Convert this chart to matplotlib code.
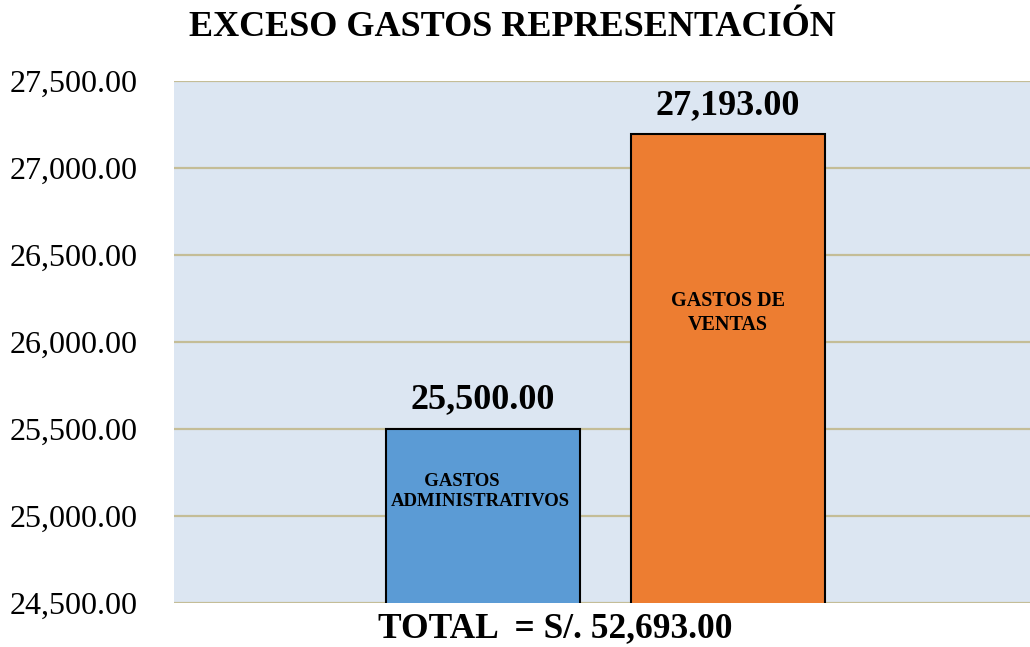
import matplotlib.pyplot as plt
from matplotlib.ticker import FuncFormatter

# data
categories = ["       GASTOS\nADMINISTRATIVOS", "GASTOS DE\nVENTAS"]
values = [25500.00, 27193.00]
colors = ["#5b9bd5", "#ed7d31"]
total_label = "TOTAL  = S/. 52,693.00"
title = "EXCESO GASTOS REPRESENTACIÓN"

plt.rcParams['font.family'] = ['Liberation Serif', 'DejaVu Serif']

fig = plt.figure(figsize=(10.30, 6.47), dpi=100)
ax = fig.add_axes([174/1030, 1 - 603/647, 856/1030, 522/647])
ax.set_facecolor("#dce6f2")

xpos = [-0.139, 0.147]
width = 0.2266
bars = ax.bar(xpos, values, width=width, color=colors, edgecolor="black",
              linewidth=1.5, zorder=3)

ax.set_xlim(-0.5, 0.5)
ax.set_ylim(24500, 27500)
ax.set_yticks(range(24500, 27501, 500))
ax.yaxis.set_major_formatter(FuncFormatter(lambda v, p: f"{v:,.2f}"))
ax.tick_params(axis="y", length=0, pad=26, labelsize=23)
ax.set_xticks([])
ax.grid(axis="y", color="#c4bd97", linewidth=1.6, zorder=1)
for s in ax.spines.values():
    s.set_visible(False)

for b, v in zip(bars, values):
    ax.annotate(f"{v:,.2f}", (b.get_x() + b.get_width()/2, v),
                xytext=(0, 9), textcoords="offset points",
                ha="center", va="bottom", fontsize=26, fontweight="bold")

# labels inside bars
ax.annotate(categories[0], (xpos[0], 25500), xytext=(-2, -45), textcoords="offset points",
            ha="center", va="center", fontsize=13.5, fontweight="bold",
            multialignment="left")
ax.annotate(categories[1], (xpos[1], 26500), xytext=(0, -42), textcoords="offset points",
            ha="center", va="center", fontsize=14.5, fontweight="bold",
            multialignment="center", linespacing=1.25)

fig.text(512/1030, 1 - 27/647, title, ha="center", va="center",
         fontsize=26, fontweight="bold")
fig.text(555/1030, 1 - 629/647, total_label, ha="center", va="center",
         fontsize=25.5, fontweight="bold")

fig.savefig("out.png", dpi=100)
